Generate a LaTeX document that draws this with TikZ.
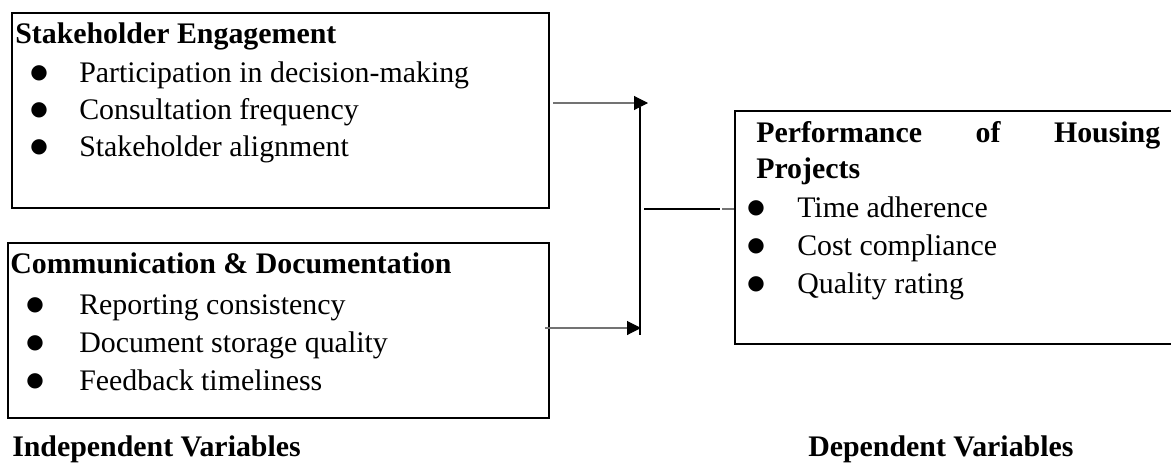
\documentclass[tikz,border=0pt]{standalone}
\usepackage{fontspec}
\setmainfont{Liberation Serif}
\newfontfamily\dotfont{DejaVu Sans}
\usetikzlibrary{arrows.meta,positioning,fit}

\newcommand{\bodysize}{\fontsize{22.4}{26}\selectfont}

\tikzset{
  box/.style={draw=black, line width=1.1pt, inner sep=0pt},
  head/.style={anchor=base west, inner sep=0pt, font=\bodysize\bfseries},
  item/.style={anchor=base west, inner sep=0pt, font=\bodysize},
  dot/.style={anchor=center, inner sep=0pt, font=\dotfont\fontsize{15}{17}\selectfont},
  feed/.style={draw=black!55, line width=0.8pt, -{Triangle[length=10.5pt, width=10.5pt, color=black]}},
}

\begin{document}
\begin{tikzpicture}[x=0.75pt, y=-0.75pt]
\useasboundingbox (0,0) rectangle (1171,464);

% boxes
\node[box, fit={(12,13) (549,208)}](Eng) {};
\node[box, fit={(8,243) (549,418)}](Com) {};
\node[box, fit={(735,111) (1180,344)}](Perf) {};

% stakeholder engagement
\node[head](EngT) at (15,43) {Stakeholder Engagement};
\node[dot](EngB1) at (39,73) {●};
\node[item](Eng1) at (79,82) {Participation in decision-making};
\node[dot](EngB2) at (39,110) {●};
\node[item](Eng2) at (79,119) {Consultation frequency};
\node[dot](EngB3) at (39,147) {●};
\node[item](Eng3) at (79,156) {Stakeholder alignment};

% communication
\node[head](ComT) at (10,273) {Communication \& Documentation};
\node[dot](ComB1) at (35,305) {●};
\node[item](Com1) at (79,314) {Reporting consistency};
\node[dot](ComB2) at (35,343) {●};
\node[item](Com2) at (79,352) {Document storage quality};
\node[dot](ComB3) at (35,381) {●};
\node[item](Com3) at (79,390) {Feedback timeliness};

% performance
\node[head](PerfT) at (756,142) {\makebox[303pt][s]{Performance of Housing}};
\node[head](PerfT2) at (756,178) {Projects};
\node[dot](PerfB1) at (756,208) {●};
\node[item](Perf1) at (797,217) {Time adherence};
\node[dot](PerfB2) at (756,246) {●};
\node[item](Perf2) at (797,255) {Cost compliance};
\node[dot](PerfB3) at (756,284) {●};
\node[item](Perf3) at (797,293) {Quality rating};

% captions
\node[head](Ind) at (12,456) {Independent Variables};
\node[head](Dep) at (808,456) {Dependent Variables};

% connectors
\coordinate (in1) at (553,103);
\coordinate (j1) at (648,103);
\coordinate (in2) at (545,328);
\coordinate (j2) at (641,328);
\coordinate (busT) at (640,107);
\coordinate (busB) at (640,335);
\coordinate (outA) at (644,209);
\coordinate (outB) at (720,209);
\coordinate (outC) at (722,209);
	\draw[feed] (in1) -- (j1);
	\draw[feed] (in2) -- (j2);
	\draw[line width=1.1pt] (busT) -- (busB);
	\draw[line width=1.5pt] (outA) -- (outB);
	\draw[draw=black!55, line width=0.8pt] (outC) -- (outC -| Perf.west);
\end{tikzpicture}
\end{document}
